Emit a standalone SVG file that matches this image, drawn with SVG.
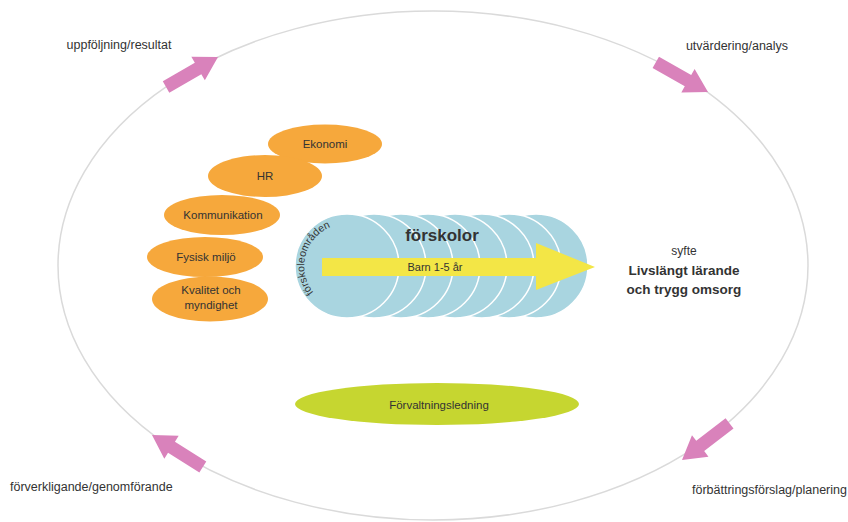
<svg xmlns="http://www.w3.org/2000/svg" width="848" height="522" viewBox="0 0 848 522">
<style>
text{font-family:"Liberation Sans",Arial,sans-serif;fill:#333}
.lbl{font-size:12.5px}
.org ellipse{fill:#f6a83c}
.org text{font-size:11.5px;text-anchor:middle}
.circ{fill:#a9d5e0;stroke:#ffffff;stroke-width:1.5}
.pk{fill:#d982bb}
</style>
<defs>
<polygon id="arr" points="-60,-6.5 -23,-6.5 -23,-13.5 0,0 -23,13.5 -23,6.5 -60,6.5"/>
<path id="arcp" d="M 313.6,292.4 A 42,42 0 0 1 347,224"/>
</defs>
<rect width="848" height="522" fill="#ffffff"/>
<g id="cycle">
<ellipse cx="433" cy="265.5" rx="375" ry="254.5" fill="none" stroke="#dadada" stroke-width="1.5"/>
</g>
<g id="connectors">
<use href="#arr" class="pk" transform="translate(218,57) rotate(-30)"/>
<use href="#arr" class="pk" transform="translate(708,92) rotate(29.5)"/>
<use href="#arr" class="pk" transform="translate(682,460) rotate(142.4)"/>
<use href="#arr" class="pk" transform="translate(152,435) rotate(-147.9)"/>
</g>
<g id="labels">
<text class="lbl" x="119" y="49" text-anchor="middle">uppföljning/resultat</text>
<text class="lbl" x="737" y="50" text-anchor="middle">utvärdering/analys</text>
<text class="lbl" x="10" y="491">förverkligande/genomförande</text>
<text class="lbl" x="692" y="494">förbättringsförslag/planering</text>
</g>
<g id="ekonomi" class="org"><ellipse cx="325" cy="144" rx="57" ry="19.5"/><text x="325" y="148">Ekonomi</text></g>
<g id="hr" class="org"><ellipse cx="265" cy="176" rx="57" ry="21"/><text x="265" y="180">HR</text></g>
<g id="kommunikation" class="org"><ellipse cx="222" cy="215" rx="58" ry="20"/><text x="223" y="219">Kommunikation</text></g>
<g id="fysisk" class="org"><ellipse cx="205" cy="257" rx="58" ry="20"/><text x="206" y="261">Fysisk miljö</text></g>
<g id="kvalitet" class="org"><ellipse cx="210" cy="299" rx="58" ry="22.5"/><text x="211" y="294">Kvalitet och</text><text x="211" y="309">myndighet</text></g>
<g id="forskolor">
<circle class="circ" cx="536" cy="266" r="52"/>
<circle class="circ" cx="509" cy="266" r="52"/>
<circle class="circ" cx="482" cy="266" r="52"/>
<circle class="circ" cx="455" cy="266" r="52"/>
<circle class="circ" cx="428" cy="266" r="52"/>
<circle class="circ" cx="401" cy="266" r="52"/>
<circle class="circ" cx="374" cy="266" r="52"/>
<circle class="circ" cx="347" cy="266" r="52"/>
<text x="442" y="241" text-anchor="middle" font-size="17" font-weight="bold">förskolor</text>
<text font-size="10.5"><textPath href="#arcp">förskoleområden</textPath></text>
</g>
<g id="barn">
<polygon points="322,258 536,258 536,243 595,267 536,290 536,276 322,276" fill="#f3e646"/>
<text x="435" y="271" text-anchor="middle" font-size="11">Barn 1-5 år</text>
</g>
<g id="syfte">
<text x="684" y="255" text-anchor="middle" font-size="12">syfte</text>
<text x="684" y="275" text-anchor="middle" font-size="13.5" font-weight="bold">Livslängt lärande</text>
<text x="684" y="294" text-anchor="middle" font-size="13.5" font-weight="bold">och trygg omsorg</text>
</g>
<g id="forvaltning">
<ellipse cx="437" cy="404" rx="142" ry="21" fill="#c6d630"/>
<text x="439" y="409" text-anchor="middle" font-size="11.5">Förvaltningsledning</text>
</g>
</svg>
